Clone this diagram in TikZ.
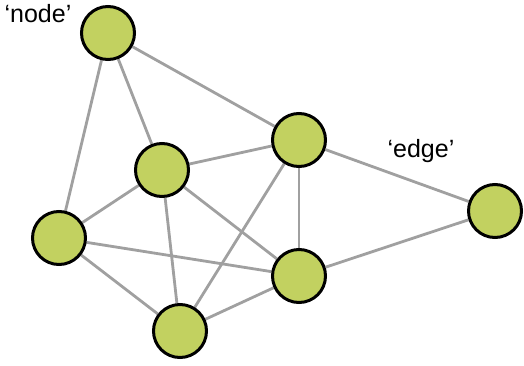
\documentclass[tikz,border=0pt]{standalone}
\usepackage{fontspec}
\setmainfont{Liberation Sans}
\usetikzlibrary{backgrounds}
\definecolor{nodegreen}{RGB}{194,209,96}
\definecolor{edgegray}{RGB}{160,160,160}
\begin{document}
\begin{tikzpicture}[x=1pt,y=1pt,
  vert/.style={circle,draw=black,line width=3pt,fill=nodegreen,inner sep=0pt,minimum size=53pt},
  link/.style={draw=edgegray,line width=2.8pt},
  lbl/.style={font=\fontsize{25}{29}\selectfont,inner sep=0pt,anchor=base}]
\useasboundingbox (0,0) rectangle (524,365);
\node[vert] (A) at (108,332) {};
\node[vert] (B) at (162,195) {};
\node[vert] (C) at (299,225) {};
\node[vert] (D) at (59,127) {};
\node[vert] (E) at (180,34) {};
\node[vert] (F) at (299,89) {};
\node[vert] (G) at (495,154) {};
\begin{scope}[on background layer]
\foreach \a/\b in {A/D,A/B,A/C,B/C,B/D,B/E,B/F,C/E,C/F,C/G,D/F,D/E,E/F,F/G}
  \draw[link] (\a) -- (\b);
\end{scope}
\node[lbl] (nodelbl) at (38,342) {‘node’};
\node[lbl] (edgelbl) at (421,208) {‘edge’};
\end{tikzpicture}
\end{document}
